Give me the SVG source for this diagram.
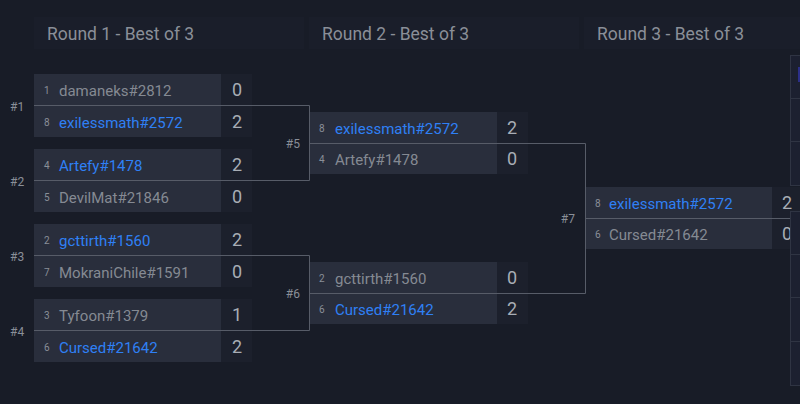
<svg xmlns="http://www.w3.org/2000/svg" width="800" height="404" viewBox="0 0 800 404">
<style>
.hdr{fill:#1a1e2a}
.htxt{font-family:Roboto,"Liberation Sans",sans-serif;font-size:17.5px;fill:#8a8f98}
.box{fill:#292e3c}
.sbox{fill:#1c202c}
.seed{font-family:Roboto,"Liberation Sans",sans-serif;font-size:10px;fill:#8a8f98}
.nm{font-family:Roboto,"Liberation Sans",sans-serif;font-size:15px;fill:#858a93}
.win{fill:#2f80f5}
.sc{font-family:Roboto,"Liberation Sans",sans-serif;font-size:18px;fill:#a8adb5}
.lbl{font-family:Roboto,"Liberation Sans",sans-serif;font-size:12px;fill:#8a8f98}
.ln{fill:none;stroke:#575c68;stroke-width:1}
.pnl{fill:#1c2030;stroke:#2f3443;stroke-width:1}
</style>
<rect width="800" height="404" fill="#181c27"/>
<g id="headers">
<rect class="hdr" x="34" y="17" width="270" height="32"/>
<rect class="hdr" x="309" y="17" width="270" height="32"/>
<rect class="hdr" x="584" y="17" width="216" height="32"/>
<text class="htxt" x="47" y="40">Round 1 - Best of 3</text>
<text class="htxt" x="322" y="40">Round 2 - Best of 3</text>
<text class="htxt" x="597" y="40">Round 3 - Best of 3</text>
</g>
<g id="m1">
<rect class="box" x="34" y="74" width="187" height="63"/>
<rect class="sbox" x="221" y="74" width="31" height="63"/>
<text class="seed" x="44" y="94">1</text><text class="nm" x="59" y="96">damaneks#2812</text><text class="sc" x="232" y="96">0</text>
<text class="seed" x="44" y="126">8</text><text class="nm win" x="59" y="128">exilessmath#2572</text><text class="sc" x="232" y="128">2</text>
<text class="lbl" x="10" y="111">#1</text>
</g>
<g id="m2">
<rect class="box" x="34" y="149" width="187" height="63"/>
<rect class="sbox" x="221" y="149" width="31" height="63"/>
<text class="seed" x="44" y="169">4</text><text class="nm win" x="59" y="171">Artefy#1478</text><text class="sc" x="232" y="171">2</text>
<text class="seed" x="44" y="201">5</text><text class="nm" x="59" y="203">DevilMat#21846</text><text class="sc" x="232" y="203">0</text>
<text class="lbl" x="10" y="186">#2</text>
</g>
<g id="m3">
<rect class="box" x="34" y="224" width="187" height="63"/>
<rect class="sbox" x="221" y="224" width="31" height="63"/>
<text class="seed" x="44" y="244">2</text><text class="nm win" x="59" y="246">gcttirth#1560</text><text class="sc" x="232" y="246">2</text>
<text class="seed" x="44" y="276">7</text><text class="nm" x="59" y="278">MokraniChile#1591</text><text class="sc" x="232" y="278">0</text>
<text class="lbl" x="10" y="261">#3</text>
</g>
<g id="m4">
<rect class="box" x="34" y="299" width="187" height="63"/>
<rect class="sbox" x="221" y="299" width="31" height="63"/>
<text class="seed" x="44" y="319">3</text><text class="nm" x="59" y="321">Tyfoon#1379</text><text class="sc" x="232" y="321">1</text>
<text class="seed" x="44" y="351">6</text><text class="nm win" x="59" y="353">Cursed#21642</text><text class="sc" x="232" y="353">2</text>
<text class="lbl" x="10" y="336">#4</text>
</g>
<g id="m5">
<rect class="box" x="310" y="112" width="187" height="62"/>
<rect class="sbox" x="497" y="112" width="31" height="62"/>
<text class="seed" x="319" y="132">8</text><text class="nm win" x="335" y="134">exilessmath#2572</text><text class="sc" x="507" y="134">2</text>
<text class="seed" x="319" y="163">4</text><text class="nm" x="335" y="165">Artefy#1478</text><text class="sc" x="507" y="165">0</text>
<text class="lbl" x="300" y="148" text-anchor="end">#5</text>
</g>
<g id="m6">
<rect class="box" x="310" y="262" width="187" height="62"/>
<rect class="sbox" x="497" y="262" width="31" height="62"/>
<text class="seed" x="319" y="282">2</text><text class="nm" x="335" y="284">gcttirth#1560</text><text class="sc" x="507" y="284">0</text>
<text class="seed" x="319" y="313">6</text><text class="nm win" x="335" y="315">Cursed#21642</text><text class="sc" x="507" y="315">2</text>
<text class="lbl" x="300" y="298" text-anchor="end">#6</text>
</g>
<g id="m7">
<rect class="box" x="585" y="187" width="187" height="62"/>
<rect class="sbox" x="772" y="187" width="31" height="62"/>
<text class="seed" x="595" y="207">8</text><text class="nm win" x="609" y="209">exilessmath#2572</text><text class="sc" x="782" y="209">2</text>
<text class="seed" x="595" y="238">6</text><text class="nm" x="609" y="240">Cursed#21642</text><text class="sc" x="782" y="240">0</text>
<text class="lbl" x="575" y="223" text-anchor="end">#7</text>
</g>
<g id="connectors">
<path class="ln" d="M34,105.5 H309.5 V180.5 H34"/>
<path class="ln" d="M34,255.5 H309.5 V330.5 H34"/>
<path class="ln" d="M310,143.5 H585.5 V293.5 H310"/>
<path class="ln" d="M585,218.5 H790"/>
</g>
<g id="next-round">
<rect class="pnl" x="790.5" y="55.5" width="20" height="130"/>
<path class="ln" d="M790,98.5 H800 M790,141.5 H800" style="stroke:#2f3443"/>
<rect x="798" y="67" width="2" height="15" fill="#2b2f88"/>
<rect class="pnl" x="790.5" y="211.5" width="20" height="174"/>
<path class="ln" d="M790,254.5 H800 M790,297.5 H800 M790,341.5 H800" style="stroke:#2f3443"/>
</g>
</svg>
